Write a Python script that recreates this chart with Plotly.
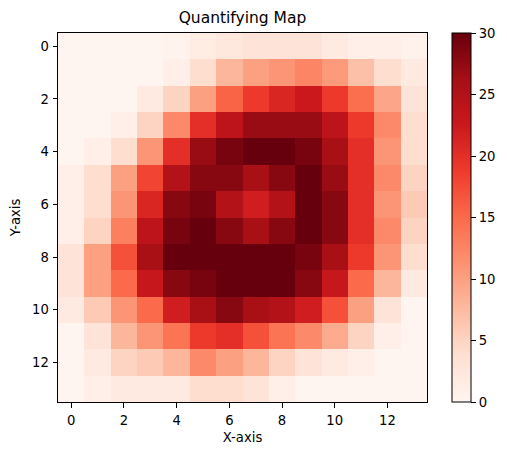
import plotly.graph_objects as go

row_labels = list(range(14))
col_labels = list(range(14))
tick_labels_x = [0, 2, 4, 6, 8, 10, 12]
tick_labels_y = [0, 2, 4, 6, 8, 10, 12]
colorbar_ticks = [0, 5, 10, 15, 20, 25, 30]
values = [
    [0, 0, 0, 0, 0.3, 1.5, 2.5, 3, 3, 3, 2, 1, 1, 0.5],
    [0, 0, 0, 0, 1, 4, 8, 10, 11, 12.5, 10.5, 7, 4, 2],
    [0, 0, 0, 2, 5, 10, 15.5, 19, 21, 22.5, 19, 14.5, 9.5, 3],
    [0, 0, 1, 5, 12, 20, 24, 27, 27, 27, 24, 19, 12, 4],
    [0, 1, 4, 11, 20, 27, 29, 30, 30, 29, 26, 20, 11, 4],
    [1, 4, 10, 18, 25, 28, 28, 26, 28, 30, 27, 20, 12, 5],
    [1, 4, 11, 21, 28, 29, 25, 22, 25, 30, 28, 20, 11, 6],
    [1, 5, 13, 24, 29, 30, 28, 26, 28, 30, 28, 20, 12, 5],
    [3, 10, 17, 26, 30, 30, 30, 30, 30, 29, 26, 19, 11, 4],
    [3, 10, 15, 23, 28, 29, 30, 30, 30, 28, 23, 15, 8, 2],
    [2, 6, 11, 15, 22, 26, 28, 26, 25, 22, 17, 10, 3, 0],
    [0, 3, 8, 11, 14, 19, 20, 17, 14, 12, 9, 5, 1, 0],
    [0, 2, 5, 6, 8, 12, 10, 8, 5, 3, 2, 1, 0, 0],
    [0, 1, 2, 2, 2, 4, 4, 3, 1, 0, 0, 0, 0, 0],
]
reds = ["#fff5f0", "#fee0d2", "#fcbba1", "#fc9272", "#fb6a4a",
        "#ef3b2c", "#cb181d", "#a50f15", "#67000d"]
colorscale = [[i / (len(reds) - 1), c] for i, c in enumerate(reds)]

W, H = 507, 455
L, R, T, B = 58, 428, 33, 402
FONT = "DejaVu Sans"
TICK = 13.2

fig = go.Figure(go.Heatmap(
    z=values, x=col_labels, y=row_labels,
    zmin=0, zmax=30, colorscale=colorscale, zsmooth=False,
    colorbar=dict(
        thickness=19, thicknessmode="pixels",
        len=1, lenmode="fraction", y=0.5, yanchor="middle",
        x=(452 - L) / (R - L), xanchor="left", xpad=0, ypad=0,
        tickvals=colorbar_ticks, ticks="outside", ticklen=5, tickwidth=1,
        tickcolor="black", outlinecolor="black", outlinewidth=1,
        tickfont=dict(family=FONT, size=TICK, color="black"),
    ),
))
axis = dict(
    ticks="outside", ticklen=4.5, tickwidth=1, tickcolor="black",
    showline=True, linecolor="black", linewidth=1, mirror=True,
    showgrid=False, zeroline=False,
    tickfont=dict(family=FONT, size=TICK, color="black"),
)
fig.update_layout(
    width=W, height=H, autosize=False,
    margin=dict(l=L, r=W - R, t=T, b=H - B, pad=0),
    paper_bgcolor="white", plot_bgcolor="white",
    title=dict(text="Quantifying Map", x=(L + R) / 2 / W - 0.001, xanchor="center",
               y=1 - 18 / H, yanchor="middle",
               font=dict(family=FONT, size=15.5, color="black")),
    xaxis=dict(range=[-0.5, 13.5], tickvals=tick_labels_x, constrain="domain",
               ticklabelstandoff=2,
               title=dict(text="X-axis", standoff=5,
                          font=dict(family=FONT, size=TICK, color="black")), **axis),
    yaxis=dict(range=[13.5, -0.5], tickvals=tick_labels_y, ticklabelstandoff=1,
               title=dict(text="Y-axis", standoff=8,
                          font=dict(family=FONT, size=TICK, color="black")), **axis),
)
fig.write_html("out.html", config=dict(displayModeBar=False),
               post_script="document.body.style.margin='0';")
